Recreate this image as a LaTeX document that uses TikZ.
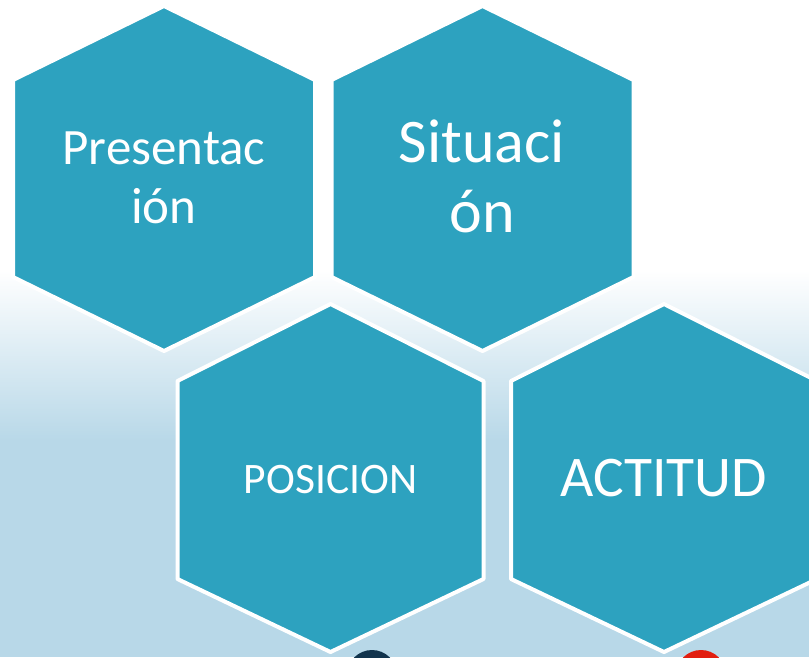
\documentclass[tikz,border=0pt]{standalone}
\usepackage{fontspec}
\setmainfont{Carlito}
\definecolor{hexteal}{HTML}{2DA2BF}
\definecolor{bgblue}{HTML}{B8D8E8}
\definecolor{dotnavy}{HTML}{12344D}
\definecolor{dotred}{HTML}{E21E10}
\begin{document}
\begin{tikzpicture}[x=1pt,y=-1pt,
  hexcell/.style={fill=hexteal, draw=white, line width=4pt, line join=round},
  celltext/.style={text=white, anchor=base, inner sep=0pt, outer sep=0pt}]
\useasboundingbox (0,0) rectangle (809,657);

% backdrop: white on top, fading into light blue
\fill[white] (0,0) rectangle (809,271);
\shade[top color=white, bottom color=bgblue] (0,270) rectangle (809,441);
\fill[bgblue] (0,440) rectangle (809,657);

% two dots peeking in at the bottom edge
\fill[dotnavy] (372,675) circle[radius=25];
\fill[dotred] (701,675) circle[radius=25];

% upper row of cells
\draw[hexcell] (164,6) -- (315,80) -- (315,277) -- (164,351) -- (13,277) -- (13,80) -- cycle;
\draw[hexcell] (482.5,6) -- (633.5,80) -- (633.5,277) -- (482.5,351) -- (331.5,277) -- (331.5,80) -- cycle;

% lower row of cells
\draw[hexcell] (330.5,304) -- (483.5,381) -- (483.5,579) -- (330.5,652) -- (177.5,579) -- (177.5,381) -- cycle;
\draw[hexcell] (664,304) -- (817,381) -- (817,579) -- (664,652) -- (511,579) -- (511,381) -- cycle;

% labels
\node[celltext, font=\fontsize{51}{59}\selectfont] (pres1) at (164,164) {Presentac};
\node[celltext, font=\fontsize{51}{59}\selectfont] (pres2) at (164,223) {ión};
\node[celltext, font=\fontsize{62}{70}\selectfont] (sit1) at (482,162) {Situaci};
\node[celltext, font=\fontsize{62}{70}\selectfont] (sit2) at (482,232) {ón};
\node[celltext, font=\fontsize{43.5}{50}\selectfont] (pos) at (330.5,493) {POSICION};
\node[celltext, font=\fontsize{57.5}{66}\selectfont] (act) at (663.6,496.7) {ACTITUD};
\end{tikzpicture}
\end{document}
